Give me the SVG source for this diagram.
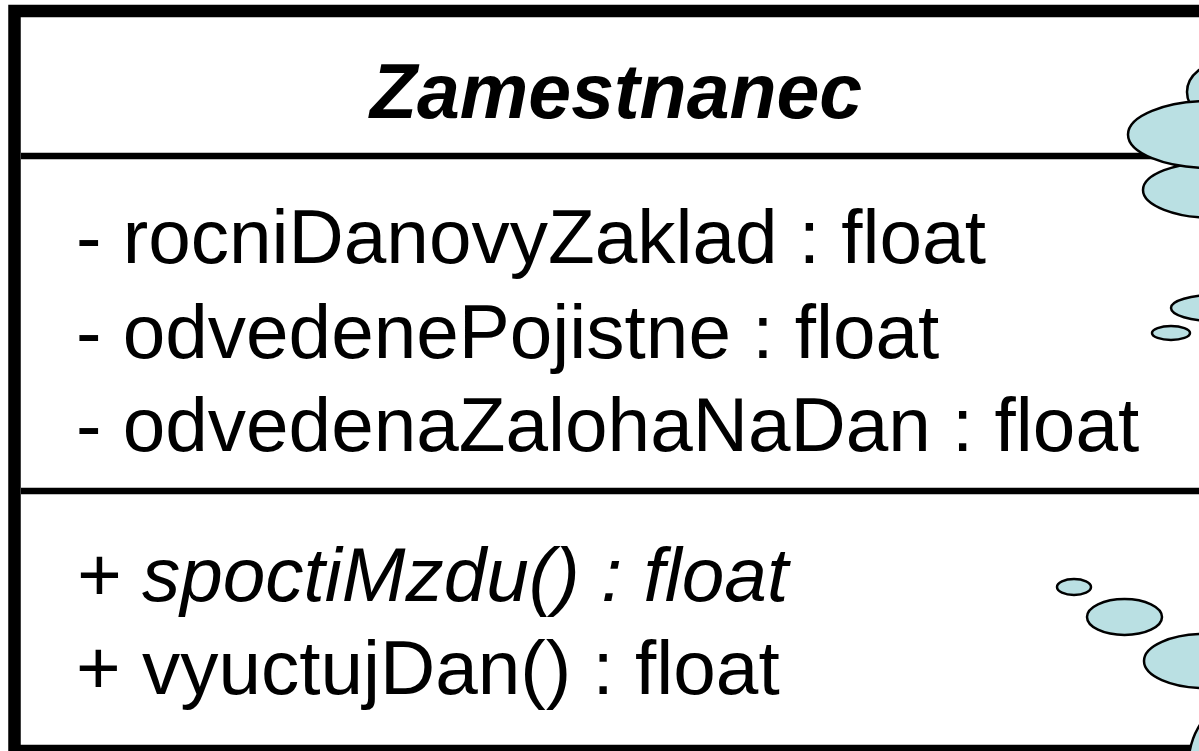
<svg xmlns="http://www.w3.org/2000/svg" width="1199" height="751" viewBox="0 0 1199 751">
  <style>
    .frame { fill: #ffffff; stroke: #000000; stroke-width: 12.5; }
    .divider { stroke: #000000; stroke-width: 6.5; }
    .title { font-family: "Liberation Sans", Arial, sans-serif; font-size: 77px; font-weight: bold; font-style: italic; fill: #000000; }
    .member { font-family: "Liberation Sans", Arial, sans-serif; font-size: 76.5px; fill: #000000; }
    .abstract { font-style: italic; }
    .puff { fill: #bae0e3; stroke: #000000; stroke-width: 2.5; }
  </style>

  <!-- class box: Zamestnanec -->
  <g id="class-zamestnanec">
    <rect class="frame" x="14.5" y="11" width="1220" height="740"/>
    <line class="divider" x1="21" y1="156" x2="1199" y2="156"/>
    <line class="divider" x1="21" y1="491" x2="1199" y2="491"/>
    <text class="title" x="370" y="118">Zamestnanec</text>
    <text class="member" x="76" y="263">- rocniDanovyZaklad : float</text>
    <text class="member" x="76" y="358">- odvedenePojistne : float</text>
    <text class="member" x="76" y="451">- odvedenaZalohaNaDan : float</text>
    <text class="member abstract" x="76" y="601">+ spoctiMzdu() : float</text>
    <text class="member" x="76" y="694">+ vyuctujDan() : float</text>
  </g>

  <!-- thought-bubble puffs along the right edge -->
  <g id="bubble-top">
    <ellipse class="puff" cx="1225" cy="92" rx="38" ry="30"/>
    <ellipse class="puff" cx="1215" cy="190" rx="72" ry="28"/>
    <ellipse class="puff" cx="1210" cy="134.5" rx="82" ry="33.5"/>
  </g>
  <g id="bubble-middle">
    <ellipse class="puff" cx="1215" cy="308" rx="44" ry="13"/>
    <ellipse class="puff" cx="1171" cy="333" rx="19" ry="7"/>
  </g>
  <g id="bubble-bottom">
    <ellipse class="puff" cx="1074" cy="587" rx="17" ry="8"/>
    <ellipse class="puff" cx="1124.5" cy="617" rx="37.5" ry="18"/>
    <ellipse class="puff" cx="1205" cy="661" rx="61" ry="27"/>
    <ellipse class="puff" cx="1223" cy="770" rx="35" ry="60"/>
  </g>
</svg>
